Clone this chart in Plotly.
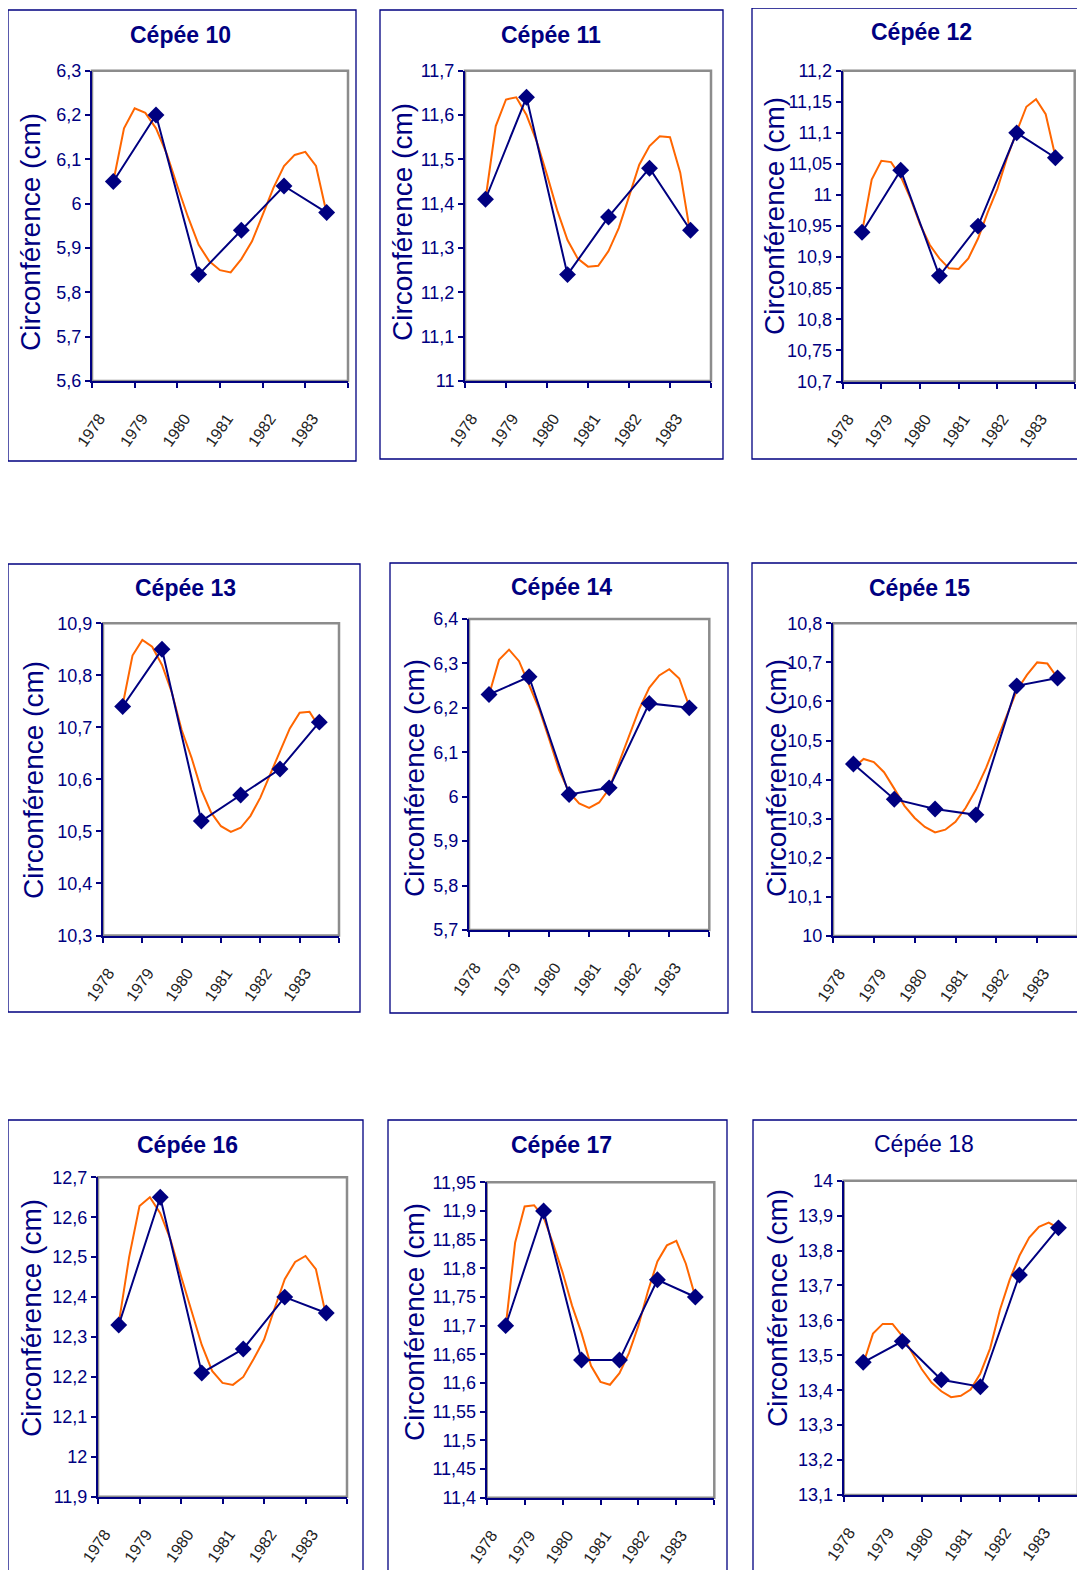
import plotly.graph_objects as go

# ---------------- data ----------------
years = ["1978", "1979", "1980", "1981", "1982", "1983"]
x_pos = [1, 2, 3, 4, 5, 6]
trend_x = [1.0, 1.25, 1.5, 1.75, 2.0, 2.25, 2.5, 2.75, 3.0, 3.25, 3.5,
           3.75, 4.0, 4.25, 4.5, 4.75, 5.0, 5.25, 5.5, 5.75, 6.0]

titles = ["Cépée 10", "Cépée 11", "Cépée 12", "Cépée 13", "Cépée 14",
          "Cépée 15", "Cépée 16", "Cépée 17", "Cépée 18"]

c10 = [6.05, 6.20, 5.84, 5.94, 6.04, 5.98]
c11 = [11.41, 11.64, 11.24, 11.37, 11.48, 11.34]
c12 = [10.94, 11.04, 10.87, 10.95, 11.10, 11.06]
c13 = [10.74, 10.85, 10.52, 10.57, 10.62, 10.71]
c14 = [6.23, 6.27, 6.005, 6.02, 6.21, 6.20]
c15 = [10.44, 10.35, 10.325, 10.31, 10.64, 10.66]
c16 = [12.33, 12.65, 12.21, 12.27, 12.40, 12.36]
c17 = [11.70, 11.90, 11.64, 11.64, 11.78, 11.75]
c18 = [13.48, 13.54, 13.43, 13.41, 13.73, 13.865]

t10 = [6.05, 6.17, 6.215, 6.205, 6.17, 6.113, 6.04, 5.97, 5.907, 5.87, 5.85,
       5.845, 5.875, 5.915, 5.975, 6.035, 6.085, 6.11, 6.117, 6.085, 5.978]
t11 = [11.41, 11.575, 11.635, 11.64, 11.60, 11.54, 11.465, 11.385, 11.318, 11.276, 11.258,
       11.26, 11.293, 11.345, 11.416, 11.488, 11.53, 11.552, 11.55, 11.47, 11.33]
t12 = [10.94, 11.025, 11.055, 11.053, 11.03, 10.995, 10.953, 10.92, 10.898, 10.882, 10.881,
       10.898, 10.93, 10.972, 11.01, 11.06, 11.102, 11.142, 11.154, 11.13, 11.062]
t13 = [10.743, 10.838, 10.868, 10.855, 10.82, 10.767, 10.695, 10.642, 10.58, 10.536, 10.51,
       10.499, 10.507, 10.53, 10.565, 10.608, 10.654, 10.698, 10.728, 10.73, 10.70]
t14 = [6.229, 6.308, 6.331, 6.305, 6.252, 6.198, 6.13, 6.06, 6.01, 5.985, 5.975,
       5.987, 6.018, 6.077, 6.137, 6.197, 6.245, 6.273, 6.287, 6.266, 6.203]
t15 = [10.43, 10.453, 10.445, 10.419, 10.377, 10.333, 10.302, 10.279, 10.265, 10.272, 10.292,
       10.328, 10.374, 10.43, 10.497, 10.565, 10.628, 10.668, 10.70, 10.697, 10.66]
t16 = [12.334, 12.50, 12.628, 12.65, 12.61, 12.543, 12.453, 12.365, 12.28, 12.215, 12.185,
       12.18, 12.20, 12.245, 12.293, 12.37, 12.445, 12.488, 12.503, 12.47, 12.351]
t17 = [11.698, 11.845, 11.908, 11.91, 11.889, 11.843, 11.793, 11.735, 11.687, 11.63, 11.602,
       11.597, 11.617, 11.652, 11.70, 11.76, 11.812, 11.84, 11.848, 11.808, 11.75]
t18 = [13.475, 13.562, 13.59, 13.59, 13.555, 13.506, 13.46, 13.422, 13.397, 13.38, 13.384,
       13.402, 13.448, 13.52, 13.63, 13.716, 13.785, 13.837, 13.868, 13.88, 13.864]

y_min = [5.6, 11.0, 10.7, 10.3, 5.7, 10.0, 11.9, 11.4, 13.1]
y_max = [6.3, 11.7, 11.2, 10.9, 6.4, 10.8, 12.7, 11.95, 14.0]
y_step = [0.1, 0.1, 0.05, 0.1, 0.1, 0.1, 0.1, 0.05, 0.1]

series = [c10, c11, c12, c13, c14, c15, c16, c17, c18]
trends = [t10, t11, t12, t13, t14, t15, t16, t17, t18]

# ---------------- layout (pixels) ----------------
W, H = 1085, 1570
OFF = 8  # page body margin compensation
NAVY = "#000080"
ORANGE = "#FF6600"
GRAY = "#8c8c8c"
FONT = "Liberation Sans, Arial, sans-serif"

# plot areas: left, right, top, bottom
plots = [
    (92, 348, 70.7, 381), (465, 711, 70.7, 381), (842.7, 1074.7, 70.7, 381.5),
    (103, 339, 623.3, 935.5), (469, 709.3, 619, 930), (833, 1078, 623.3, 936),
    (98, 347, 1177.3, 1496.7), (486.7, 714.3, 1182.3, 1497.7), (843.7, 1078, 1180.7, 1495),
]
# chart border boxes: left, right, top, bottom
boxes = [
    (8, 356, 10, 461), (380, 723, 10, 459), (752, 1095, 8, 459),
    (8, 360, 564, 1012), (390, 728, 563, 1013), (752, 1095, 563, 1012),
    (8, 363, 1120, 1580), (388, 727, 1120, 1580), (753, 1095, 1120, 1580),
]
title_pos = [(181, 35), (551, 35), (921, 32), (185, 588), (561, 587), (919, 588),
             (187, 1145), (561, 1145), (924, 1144)]
ytitle_pos = [(31, 232), (403, 222), (775, 216), (33, 780), (414, 778), (776, 778),
              (31, 1318), (414, 1322), (777, 1308)]


def px(x):
    return (x - OFF) / W


def py(y):
    return 1 - (y - OFF) / H


fig = go.Figure()
layout = dict(width=W, height=H, margin=dict(l=0, r=0, t=0, b=0, pad=0, autoexpand=False),
              template="none",
              paper_bgcolor="white", plot_bgcolor="white", showlegend=False,
              font=dict(family=FONT, color=NAVY))
shapes = []
annotations = []

for i in range(9):
    n = "" if i == 0 else str(i + 1)
    xa, ya = "x" + n, "y" + n
    left, right, top, bottom = plots[i]

    # tick values / labels
    nt = int(round((y_max[i] - y_min[i]) / y_step[i]))
    tv = [round(y_min[i] + k * y_step[i], 4) for k in range(nt + 1)]
    tt = [("%g" % v).replace(".", ",") for v in tv]

    layout["xaxis" + n] = dict(
        domain=[px(left), px(right)], anchor=ya, range=[0.5, 6.5], automargin=False,
        showgrid=False, zeroline=False, showline=True, linecolor=NAVY, linewidth=2,
        tickmode="array", tickvals=x_pos, ticktext=years, ticks="",
        tickangle=-55, tickfont=dict(family=FONT, size=16, color="#222222"),
        ticklabelstandoff=20, ticklabelshift=-14,
        minor=dict(tickmode="linear", tick0=0.5, dtick=1, ticks="outside",
                   ticklen=5, tickwidth=1.5, tickcolor=NAVY, showgrid=False),
        fixedrange=True,
    )
    layout["yaxis" + n] = dict(
        domain=[py(bottom), py(top)], anchor=xa, range=[y_min[i], y_max[i]], automargin=False,
        showgrid=False, zeroline=False, showline=True, linecolor=NAVY, linewidth=2,
        tickmode="array", tickvals=tv, ticktext=tt, ticks="outside", ticklen=5,
        tickwidth=1.5, tickcolor=NAVY, tickfont=dict(family=FONT, size=18, color=NAVY),
        fixedrange=True,
    )

    # gray frame (top & right visible)
    shapes.append(dict(type="rect", xref=xa + " domain", yref=ya + " domain",
                       x0=0, x1=1, y0=0, y1=1, line=dict(color=GRAY, width=2.5),
                       layer="below"))
    # chart border
    bl, br, bt, bb = boxes[i]
    shapes.append(dict(type="rect", xref="paper", yref="paper",
                       x0=px(bl), x1=px(br), y0=py(bb), y1=py(bt),
                       line=dict(color=NAVY, width=1.3)))

    # orange trend curve
    fig.add_trace(go.Scatter(x=trend_x, y=trends[i], mode="lines", xaxis=xa, yaxis=ya,
                             line=dict(color=ORANGE, width=2), hoverinfo="skip"))
    # navy data line
    fig.add_trace(go.Scatter(x=x_pos, y=series[i], mode="lines+markers", xaxis=xa, yaxis=ya,
                             line=dict(color=NAVY, width=2),
                             marker=dict(symbol="diamond", size=13, color=NAVY)))

    tx, ty = title_pos[i]
    bold = i != 8
    annotations.append(dict(
        x=px(tx), y=py(ty), xref="paper", yref="paper", showarrow=False,
        text=("<b>%s</b>" % titles[i]) if bold else titles[i],
        font=dict(family=FONT, size=23, color=NAVY), xanchor="center", yanchor="middle"))
    yx, yy = ytitle_pos[i]
    annotations.append(dict(
        x=px(yx), y=py(yy), xref="paper", yref="paper", showarrow=False,
        text="Circonférence (cm)", textangle=-90,
        font=dict(family=FONT, size=28, color=NAVY), xanchor="center", yanchor="middle"))

layout["shapes"] = shapes
layout["annotations"] = annotations
fig.update_layout(**layout)
fig.write_html("out.html")
